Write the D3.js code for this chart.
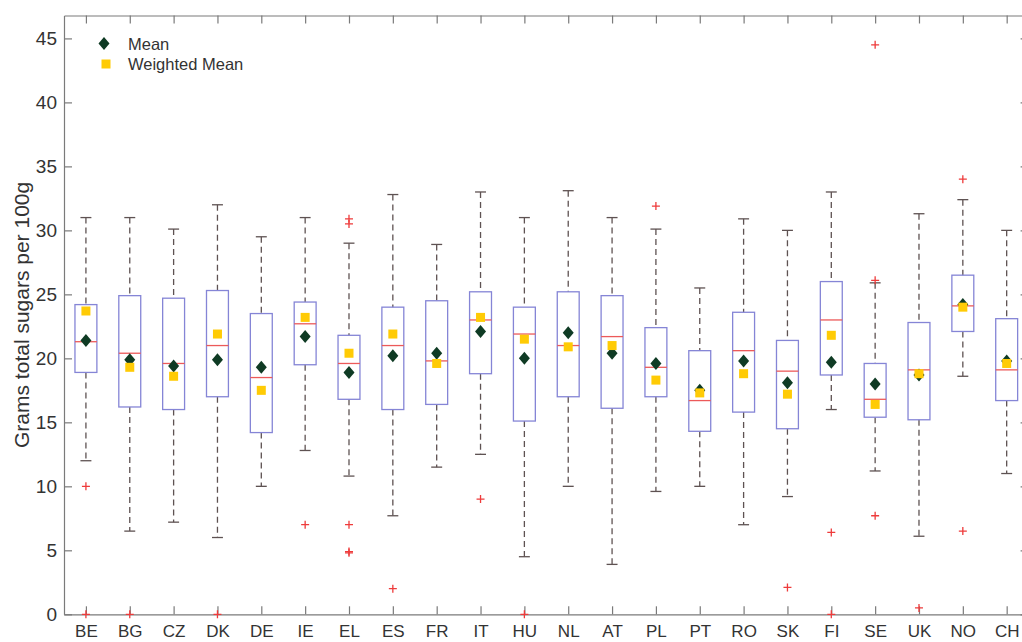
<!DOCTYPE html>
<html>
<head>
<meta charset="utf-8">
<script src="https://cdn.jsdelivr.net/npm/d3@7"></script>
<style>
  html, body { margin: 0; padding: 0; background: #fff; }
  svg { display: block; }
  text { font-family: "Liberation Sans", Arial, Helvetica, sans-serif; fill: #333; }
</style>
</head>
<body>
<svg id="chart" width="1022" height="642"></svg>
<script>
// Countries along the x axis
const categories = ["BE","BG","CZ","DK","DE","IE","EL","ES","FR","IT","HU",
                    "NL","AT","PL","PT","RO","SK","FI","SE","UK","NO","CH"];

// Box-plot statistics per country (grams total sugars per 100 g)
const upperWhisker = [31.0, 31.0, 30.1, 32.0, 29.5, 31.0, 29.0, 32.8, 28.9, 33.0, 31.0,
                      33.1, 31.0, 30.1, 25.5, 30.9, 30.0, 33.0, 25.9, 31.3, 32.4, 30.0];
const upperQuartile = [24.2, 24.9, 24.7, 25.3, 23.5, 24.4, 21.8, 24.0, 24.5, 25.2, 24.0,
                       25.2, 24.9, 22.4, 20.6, 23.6, 21.4, 26.0, 19.6, 22.8, 26.5, 23.1];
const medians = [21.3, 20.4, 19.6, 21.0, 18.5, 22.7, 19.6, 21.0, 19.8, 23.0, 21.9,
                 21.0, 21.7, 19.3, 16.7, 20.6, 19.0, 23.0, 16.8, 19.1, 24.1, 19.1];
const lowerQuartile = [18.9, 16.2, 16.0, 17.0, 14.2, 19.5, 16.8, 16.0, 16.4, 18.8, 15.1,
                       17.0, 16.1, 17.0, 14.3, 15.8, 14.5, 18.7, 15.4, 15.2, 22.1, 16.7];
const lowerWhisker = [12.0, 6.5, 7.2, 6.0, 10.0, 12.8, 10.8, 7.7, 11.5, 12.5, 4.5,
                      10.0, 3.9, 9.6, 10.0, 7.0, 9.2, 16.0, 11.2, 6.1, 18.6, 11.0];
const outliers = [[10, 0], [0], [], [0], [], [7.0], [30.9, 30.5, 7.0, 4.9, 4.8], [2.0], [], [9.0], [0],
                  [], [], [31.9], [], [], [2.1], [6.4, 0], [44.5, 26.1, 7.7], [0.5], [34.0, 6.5], []];
const means = [21.4, 19.9, 19.4, 19.9, 19.3, 21.7, 18.9, 20.2, 20.4, 22.1, 20.0,
               22.0, 20.4, 19.6, 17.5, 19.8, 18.1, 19.7, 18.0, 18.7, 24.2, 19.8];
const weightedMeans = [23.7, 19.3, 18.6, 21.9, 17.5, 23.2, 20.4, 21.9, 19.6, 23.2, 21.5,
                       20.9, 21.0, 18.3, 17.3, 18.8, 17.2, 21.8, 16.4, 18.8, 24.0, 19.6];
const yTicks = [0, 5, 10, 15, 20, 25, 30, 35, 40, 45];

const svg = d3.select("#chart");
const plotLeft = 64, plotRight = 1028.6, plotTop = 15.5, plotBottom = 614.3;

const x = d3.scaleLinear().domain([0.5, categories.length + 0.5]).range([plotLeft, plotRight]);
const y = d3.scaleLinear().domain([0, 46.79]).range([plotBottom, plotTop]);

const axisColor = "#7a7a7a";
const tickLen = 8;

// Frame and axes (ticks point inward)
const gx = svg.append("g").attr("transform", `translate(0,${plotBottom})`)
  .call(d3.axisBottom(x).tickValues(d3.range(1, categories.length + 1))
    .tickFormat(i => categories[i - 1]).tickSizeInner(-tickLen).tickSizeOuter(0));
const gxTop = svg.append("g").attr("transform", `translate(0,${plotTop})`)
  .call(d3.axisTop(x).tickValues(d3.range(1, categories.length + 1))
    .tickFormat("").tickSizeInner(-tickLen).tickSizeOuter(0));
const gy = svg.append("g").attr("transform", `translate(${plotLeft},0)`)
  .call(d3.axisLeft(y).tickValues(yTicks).tickSizeInner(-tickLen).tickSizeOuter(0).tickPadding(7));
const gyRight = svg.append("g").attr("transform", `translate(${plotRight},0)`)
  .call(d3.axisRight(y).tickValues(yTicks).tickFormat("").tickSizeInner(-tickLen).tickSizeOuter(0));

[gx, gxTop, gy, gyRight].forEach(g => {
  g.select(".domain").attr("stroke", axisColor).attr("stroke-width", 1.2);
  g.selectAll(".tick line").attr("stroke", axisColor).attr("stroke-width", 1.2);
  g.selectAll(".tick text").style("font-size", "19px").attr("fill", "#333");
});
// country labels sit just above the bottom edge of the figure
gx.selectAll(".tick text").style("font-size", "17px").attr("y", 23).attr("dy", "0");

// Y axis title
svg.append("text")
  .attr("transform", `translate(29,${(plotTop + plotBottom) / 2}) rotate(-90)`)
  .attr("text-anchor", "middle")
  .style("font-size", "21px")
  .text("Grams total sugars per 100g");

const boxHalf = 0.25, capHalf = 0.125;
const plot = svg.append("g");

categories.forEach((c, i) => {
  const cx = i + 1;
  const g = plot.append("g");
  // whiskers
  g.append("line").attr("x1", x(cx)).attr("x2", x(cx))
    .attr("y1", y(upperWhisker[i])).attr("y2", y(upperQuartile[i]))
    .attr("stroke", "#5e5252").attr("stroke-width", 1.3).attr("stroke-dasharray", "6,4");
  g.append("line").attr("x1", x(cx)).attr("x2", x(cx))
    .attr("y1", y(lowerQuartile[i])).attr("y2", y(lowerWhisker[i]))
    .attr("stroke", "#5e5252").attr("stroke-width", 1.3).attr("stroke-dasharray", "6,4");
  // whisker caps
  [upperWhisker[i], lowerWhisker[i]].forEach(v => {
    g.append("line").attr("x1", x(cx - capHalf)).attr("x2", x(cx + capHalf))
      .attr("y1", y(v)).attr("y2", y(v))
      .attr("stroke", "#5e5252").attr("stroke-width", 1.3);
  });
  // box
  g.append("rect")
    .attr("x", x(cx - boxHalf)).attr("width", x(cx + boxHalf) - x(cx - boxHalf))
    .attr("y", y(upperQuartile[i])).attr("height", y(lowerQuartile[i]) - y(upperQuartile[i]))
    .attr("fill", "none").attr("stroke", "#8585d6").attr("stroke-width", 1.3);
  // median
  g.append("line").attr("x1", x(cx - boxHalf)).attr("x2", x(cx + boxHalf))
    .attr("y1", y(medians[i])).attr("y2", y(medians[i]))
    .attr("stroke", "#ec5a5a").attr("stroke-width", 1.3);
  // outliers
  outliers[i].forEach(v => {
    g.append("path")
      .attr("d", `M${x(cx) - 4},${y(v)}h8M${x(cx)},${y(v) - 4}v8`)
      .attr("stroke", "#ee3b3b").attr("stroke-width", 1.3).attr("fill", "none");
  });
});

const diamond = (cx, cy) => `M${cx},${cy - 6.5}L${cx + 5.5},${cy}L${cx},${cy + 6.5}L${cx - 5.5},${cy}Z`;
const meanColor = "#0f3b24", wMeanColor = "#ffcb05";

plot.selectAll("path.mean").data(means).join("path")
  .attr("class", "mean")
  .attr("d", (v, i) => diamond(x(i + 1), y(v)))
  .attr("fill", meanColor);

plot.selectAll("rect.wmean").data(weightedMeans).join("rect")
  .attr("class", "wmean")
  .attr("x", (v, i) => x(i + 1) - 4.5).attr("y", v => y(v) - 4.5)
  .attr("width", 9).attr("height", 9)
  .attr("fill", wMeanColor);

// Legend
const legend = svg.append("g");
legend.append("path").attr("d", diamond(104, 43.5)).attr("fill", meanColor);
legend.append("rect").attr("x", 101.5).attr("y", 59.5).attr("width", 9).attr("height", 9).attr("fill", wMeanColor);
legend.append("text").attr("x", 128).attr("y", 43.8).attr("dy", "0.35em")
  .style("font-size", "16.5px").text("Mean");
legend.append("text").attr("x", 128).attr("y", 64.3).attr("dy", "0.35em")
  .style("font-size", "16.5px").text("Weighted Mean");
</script>
</body>
</html>
